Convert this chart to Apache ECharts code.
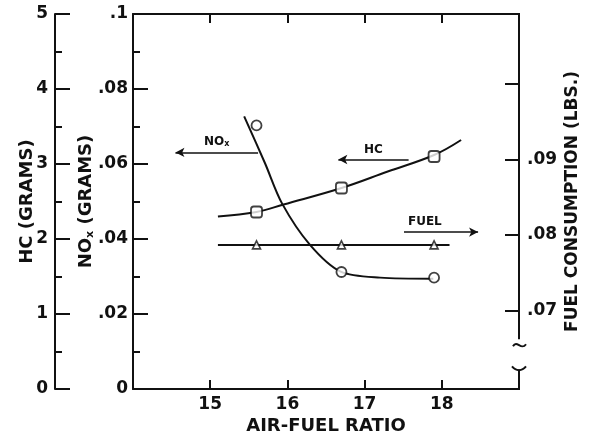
<!DOCTYPE html>
<html><head><meta charset="utf-8">
<script src="https://cdn.jsdelivr.net/npm/echarts@6/dist/echarts.min.js"></script>
<style>html,body{margin:0;padding:0;background:#fff}#c{width:594px;height:447px}</style>
</head><body><div id="c"></div>
<script>
// ---- data ----
const ratioPoints = [15.6, 16.7, 17.9];
const noxPoints = [0.0703, 0.0312, 0.0297];
const hcPoints = [2.36, 2.68, 3.10];
const fuelPoints = [0.0787, 0.0787, 0.0787];

const noxCurveX = [15.44, 15.71, 15.93, 16.29, 16.69, 17.20, 17.89];
const noxCurveY = [0.0727, 0.0602, 0.0495, 0.0385, 0.0313, 0.0297, 0.0294];
const hcCurveX = [15.10, 15.60, 15.95, 16.70, 17.30, 17.90, 18.25];
const hcCurveY = [2.30, 2.36, 2.46, 2.68, 2.90, 3.12, 3.32];
const fuelCurveX = [15.10, 18.10];
const fuelCurveY = [0.0787, 0.0787];

const xTickLabels = ['15', '16', '17', '18'];
const hcTickLabels = ['0', '1', '2', '3', '4', '5'];
const noxTickLabels = ['0', '.02', '.04', '.06', '.08', '.1'];
const fuelTickValues = [0.07, 0.08, 0.09, 0.1];
const fuelLabelValues = [0.07, 0.08, 0.09];
const fuelTickLabels = ['.07', '.08', '.09'];

// annotation arrows: [xStart, xEnd, y]
const noxArrow = [15.62, 14.55, 0.0631];
const hcArrow = [17.57, 16.66, 3.06];
const fuelArrow = [17.51, 18.47, 0.0804];
// right-axis break (fuel units)
const breakUpper = 0.0662, breakTilde = 0.0654, breakLower = 0.0622;

const zip = (a, b) => a.map((v, i) => [v, b[i]]);
const FONT = 'DejaVu Sans';
const INK = '#111';

const chart = echarts.init(document.getElementById('c'), null, {renderer: 'canvas'});

function arrowLine(arr, text, pos) {
  return {
    silent: true,
    animation: false,
    lineStyle: {color: INK, width: 1.5, type: 'solid'},
    label: {show: true, position: pos, formatter: text, color: INK,
      fontFamily: FONT, fontWeight: 'bold', fontSize: 12, distance: 4,
      rich: {s: {fontSize: 8, fontFamily: FONT, fontWeight: 'bold', color: INK, verticalAlign: 'bottom', padding: [6, 0, 0, 0]}}},
    data: [[{coord: [arr[0], arr[2]], symbol: 'none'}, {coord: [arr[1], arr[2]], symbol: 'arrow', symbolSize: [7, 9]}]]
  };
}

const tickLabelStyle = {color: INK, fontFamily: FONT, fontWeight: 'bold', fontSize: 17};
const nameStyle = {color: INK, fontFamily: FONT, fontWeight: 'bold', fontSize: 18};

const option = {
  backgroundColor: '#fff',
  animation: false,
  grid: {left: 133, right: 75, top: 14, bottom: 58, containLabel: false},
  xAxis: [{
    type: 'value', position: 'bottom', min: 14, max: 19, interval: 1,
    axisLine: {show: true, onZero: false, lineStyle: {color: INK, width: 2}},
    axisTick: {show: true, inside: true, length: 9, lineStyle: {color: INK, width: 2}},
    axisLabel: Object.assign({margin: 7, formatter: v => xTickLabels.includes(String(v)) ? String(v) : ''}, tickLabelStyle),
    splitLine: {show: false},
    name: 'AIR-FUEL RATIO', nameLocation: 'middle', nameGap: 28, nameMoveOverlap: false,
    nameTextStyle: nameStyle
  }, {
    type: 'value', position: 'top', min: 14, max: 19, interval: 1,
    axisLine: {show: true, onZero: false, lineStyle: {color: INK, width: 2}},
    axisTick: {show: true, inside: true, length: 9, lineStyle: {color: INK, width: 2}},
    axisLabel: {show: false}, splitLine: {show: false}
  }],
  yAxis: [{
    type: 'value', position: 'left', offset: 78, min: 0, max: 5, interval: 1,
    axisLine: {show: true, onZero: false, lineStyle: {color: INK, width: 2}},
    axisTick: {show: true, inside: true, length: 15, lineStyle: {color: INK, width: 2}},
    minorTick: {show: true, splitNumber: 2, length: 7, lineStyle: {color: INK, width: 2}},
    axisLabel: Object.assign({margin: 7, formatter: v => hcTickLabels[Math.round(v)]}, tickLabelStyle),
    splitLine: {show: false},
    name: 'HC (GRAMS)', nameLocation: 'middle', nameGap: 19, nameRotate: 90, nameMoveOverlap: false,
    nameTextStyle: nameStyle
  }, {
    type: 'value', position: 'left', offset: 0, min: 0, max: 0.1, interval: 0.02,
    axisLine: {show: true, onZero: false, lineStyle: {color: INK, width: 2}},
    axisTick: {show: true, inside: true, length: 15, lineStyle: {color: INK, width: 2}},
    minorTick: {show: true, splitNumber: 2, length: 7, lineStyle: {color: INK, width: 2}},
    axisLabel: Object.assign({margin: 5, formatter: v => noxTickLabels[Math.round(v / 0.02)]}, tickLabelStyle),
    splitLine: {show: false},
    name: 'NO{s|x} (GRAMS)', nameLocation: 'middle', nameGap: 37, nameRotate: 90, nameMoveOverlap: false,
    nameTextStyle: Object.assign({rich: {s: {fontSize: 11, fontFamily: FONT, fontWeight: 'bold', color: INK, verticalAlign: 'bottom', padding: [9, 0, 0, 0]}}}, nameStyle)
  }, {
    type: 'value', position: 'right', min: 0.0596, max: 0.1093,
    axisLine: {show: false, onZero: false},
    axisTick: {show: true, inside: true, length: 14, customValues: fuelTickValues, lineStyle: {color: INK, width: 2}},
    axisLabel: Object.assign({margin: 8, customValues: fuelLabelValues,
      formatter: v => fuelTickLabels[fuelLabelValues.findIndex(f => Math.abs(f - v) < 1e-6)] || ''}, tickLabelStyle),
    splitLine: {show: false},
    name: 'FUEL CONSUMPTION (LBS.)', nameLocation: 'middle', nameGap: 45, nameRotate: 90, nameMoveOverlap: false,
    nameTextStyle: Object.assign({}, nameStyle, {fontSize: 17})
  }],
  series: [
    {type: 'line', name: 'NOx curve', xAxisIndex: 0, yAxisIndex: 1, data: zip(noxCurveX, noxCurveY),
      showSymbol: false, smooth: 0.3, lineStyle: {color: INK, width: 2}, z: 2,
      markLine: arrowLine(noxArrow, 'NO{s|x}', 'insideMiddleTop')},
    {type: 'line', name: 'HC curve', xAxisIndex: 0, yAxisIndex: 0, data: zip(hcCurveX, hcCurveY),
      showSymbol: false, smooth: 0.4, lineStyle: {color: INK, width: 2}, z: 2,
      markLine: arrowLine(hcArrow, 'HC', 'insideMiddleTop')},
    {type: 'line', name: 'Fuel curve', xAxisIndex: 0, yAxisIndex: 2, data: zip(fuelCurveX, fuelCurveY),
      showSymbol: false, lineStyle: {color: INK, width: 2}, z: 2,
      markLine: arrowLine(fuelArrow, 'FUEL', 'insideStartTop')},
    {type: 'scatter', name: 'NOx', xAxisIndex: 0, yAxisIndex: 1, data: zip(ratioPoints, noxPoints),
      symbol: 'circle', symbolSize: 10, itemStyle: {color: '#fff', borderColor: INK, borderWidth: 1.8}, z: 5},
    {type: 'scatter', name: 'HC', xAxisIndex: 0, yAxisIndex: 0, data: zip(ratioPoints, hcPoints),
      symbol: 'roundRect', symbolSize: 11, itemStyle: {color: '#fff', borderColor: INK, borderWidth: 1.8}, z: 5},
    {type: 'scatter', name: 'Fuel', xAxisIndex: 0, yAxisIndex: 2, data: zip(ratioPoints, fuelPoints),
      symbol: 'triangle', symbolSize: 8, itemStyle: {color: '#fff', borderColor: INK, borderWidth: 1.6}, z: 5}
  ]
};
chart.setOption(option);

// right axis with a break, positioned through the library's scales
const xr = chart.convertToPixel({xAxisIndex: 0}, 19);
const yTop = chart.convertToPixel({yAxisIndex: 2}, 0.1093);
const yBot = chart.convertToPixel({yAxisIndex: 2}, 0.0596);
const yU = chart.convertToPixel({yAxisIndex: 2}, breakUpper);
const yT = chart.convertToPixel({yAxisIndex: 2}, breakTilde);
const yL = chart.convertToPixel({yAxisIndex: 2}, breakLower);
const st = {stroke: INK, lineWidth: 2, fill: null};
chart.setOption({graphic: [
  {type: 'line', shape: {x1: xr, y1: yTop - 1, x2: xr, y2: yU}, style: st, z: 10},
  {type: 'bezierCurve', shape: {x1: xr - 6, y1: yT + 1, cpx1: xr - 2, cpy1: yT - 6, cpx2: xr + 2, cpy2: yT + 6, x2: xr + 7, y2: yT - 1}, style: st, z: 10},
  {type: 'bezierCurve', shape: {x1: xr - 7, y1: yL - 3, cpx1: xr - 3, cpy1: yL + 2, cpx2: xr + 3, cpy2: yL + 2, x2: xr + 7, y2: yL - 3}, style: st, z: 10},
  {type: 'line', shape: {x1: xr, y1: yL, x2: xr, y2: yBot + 1}, style: st, z: 10}
]});
</script></body></html>
